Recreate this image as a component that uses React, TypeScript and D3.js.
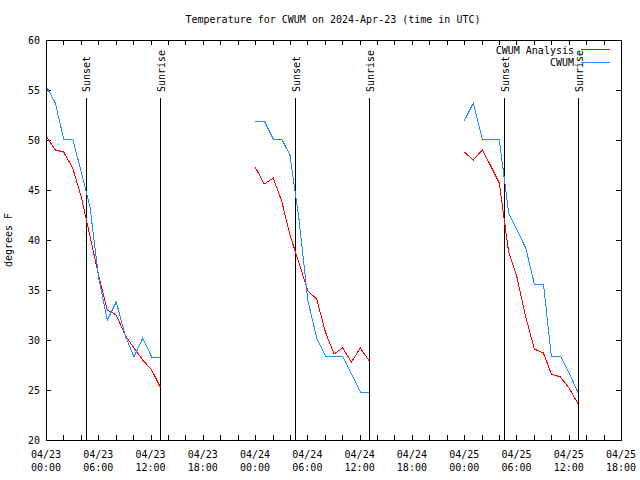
import React from "react";
import * as d3 from "d3";

// Hours since 2024-04-23 00:00 UTC, null = gap
const hours: (number | null)[] = [
  0.07, 1.07, 2.03, 3.06, 4.05, 5.05, 6.05, 7.04, 8.07, 9.07, 10.1, 11.1, 12.13, 13.12,
  null,
  24.0, 25.05, 26.08, 27.05, 28.0, 29.05, 30.05, 31.07, 32.07, 33.06, 34.05, 35.05, 36.08, 37.1,
  null,
  48.0, 49.05, 50.08, 51.0, 52.03, 53.1, 54.05, 55.07, 56.05, 57.1, 58.0, 59.05, 60.1, 61.08,
];
const analysis: (number | null)[] = [
  50.3, 49.0, 48.8, 47.2, 44.3, 40.4, 36.4, 33.0, 32.5, 30.5, 29.2, 28.0, 27.0, 25.3,
  null,
  47.3, 45.6, 46.2, 43.9, 40.5, 37.7, 34.9, 34.1, 30.8, 28.6, 29.2, 27.8, 29.2, 27.9,
  null,
  48.8, 48.0, 49.0, 47.5, 45.7, 38.8, 36.3, 32.3, 29.1, 28.7, 26.6, 26.3, 25.1, 23.6,
];
const observed: (number | null)[] = [
  55.3, 53.7, 50.1, 50.1, 46.8, 43.3, 36.2, 32.0, 33.8, 30.5, 28.3, 30.2, 28.3, 28.3,
  null,
  51.9, 51.9, 50.1, 50.1, 48.5, 42.0, 34.0, 30.2, 28.4, 28.4, 28.4, 26.6, 24.8, 24.8,
  null,
  51.9, 53.7, 50.1, 50.1, 50.1, 42.7, 41.0, 39.2, 35.6, 35.6, 28.4, 28.4, 26.6, 24.7,
];
const sunsetHours = [4.56, 28.6, 52.6];
const sunriseHours = [13.12, 37.1, 61.1];

const xTickHours = [0, 6, 12, 18, 24, 30, 36, 42, 48, 54, 60, 66];
const xTickLabels = [
  ["04/23", "00:00"], ["04/23", "06:00"], ["04/23", "12:00"], ["04/23", "18:00"],
  ["04/24", "00:00"], ["04/24", "06:00"], ["04/24", "12:00"], ["04/24", "18:00"],
  ["04/25", "00:00"], ["04/25", "06:00"], ["04/25", "12:00"], ["04/25", "18:00"],
];
const xMinorHours = [2, 4, 8, 10, 14, 16, 20, 22, 26, 28, 32, 34, 38, 40, 44, 46, 50, 52, 56, 58, 62, 64];
const yTicks = [20, 25, 30, 35, 40, 45, 50, 55, 60];

const title = "Temperature for CWUM on 2024-Apr-23 (time in UTC)";
const yLabel = "degrees F";
const seriesNames = ["CWUM Analysis", "CWUM"];
const RED = "#ff0000";
const BLUE = "#1e8cff";
const FONT = "'DejaVu Sans Mono', monospace";

export default function App() {
  const W = 640, H = 480;
  const L = 46, R = 621, T = 40, B = 440;
  const x = d3.scaleLinear().domain([0, 66]).range([L, R]);
  const y = d3.scaleLinear().domain([20, 60]).range([B, T]);

  const makeLine = (vals: (number | null)[]) =>
    d3.line<number>()
      .defined((i) => hours[i] != null && vals[i] != null)
      .x((i) => x(hours[i] as number))
      .y((i) => y(vals[i] as number))(d3.range(hours.length)) || "";

  const tickLen = 5;
  return (
    <div style={{ position: "fixed", left: 0, top: 0 }}>
      <svg width={W} height={H} style={{ display: "block", background: "#fff" }} fontFamily={FONT} fontSize={10}>
        <rect x={0} y={0} width={W} height={H} fill="#fff" />
        {/* y ticks */}
        {yTicks.map((v) => (
          <g key={"y" + v} shapeRendering="crispEdges">
            <line x1={L} x2={L + tickLen} y1={Math.round(y(v)) + 0.5} y2={Math.round(y(v)) + 0.5} stroke="#000" />
            <line x1={R - tickLen} x2={R} y1={Math.round(y(v)) + 0.5} y2={Math.round(y(v)) + 0.5} stroke="#000" />
            <text x={40} y={y(v) + 4} textAnchor="end" fill="#000">{v}</text>
          </g>
        ))}
        {/* x ticks */}
        {[...xTickHours, ...xMinorHours].map((h) => (
          <g key={"xt" + h} shapeRendering="crispEdges">
            <line x1={Math.round(x(h)) + 0.5} x2={Math.round(x(h)) + 0.5} y1={B} y2={B - tickLen} stroke="#000" />
            <line x1={Math.round(x(h)) + 0.5} x2={Math.round(x(h)) + 0.5} y1={T} y2={T + tickLen} stroke="#000" />
          </g>
        ))}
        {xTickHours.map((h, i) => (
          <g key={"xl" + h}>
            <text x={x(h)} y={458} textAnchor="middle" fill="#000">{xTickLabels[i][0]}</text>
            <text x={x(h)} y={471} textAnchor="middle" fill="#000">{xTickLabels[i][1]}</text>
          </g>
        ))}
        {/* sunset / sunrise */}
        {sunsetHours.map((h) => (
          <g key={"ss" + h}>
            <line x1={Math.round(x(h)) + 0.5} x2={Math.round(x(h)) + 0.5} y1={98} y2={B} stroke="#000" shapeRendering="crispEdges" />
            <text transform={`translate(${x(h) + 4.5},92) rotate(-90)`} textAnchor="start" fill="#000">Sunset</text>
          </g>
        ))}
        {sunriseHours.map((h) => (
          <g key={"sr" + h}>
            <line x1={Math.round(x(h)) + 0.5} x2={Math.round(x(h)) + 0.5} y1={98} y2={B} stroke="#000" shapeRendering="crispEdges" />
            <text transform={`translate(${x(h) + 4.5},92) rotate(-90)`} textAnchor="start" fill="#000">Sunrise</text>
          </g>
        ))}
        {/* series */}
        <path d={makeLine(analysis)} fill="none" stroke={RED} strokeWidth={1} shapeRendering="crispEdges" />
        <path d={makeLine(observed)} fill="none" stroke={BLUE} strokeWidth={1} shapeRendering="crispEdges" />
        {/* frame */}
        <rect x={L + 0.5} y={T + 0.5} width={R - L} height={B - T} fill="none" stroke="#000" shapeRendering="crispEdges" />
        {/* legend */}
        <text x={574} y={53.5} textAnchor="end" fill="#000">{seriesNames[0]}</text>
        <line x1={581} x2={610} y1={49.5} y2={49.5} stroke={RED} shapeRendering="crispEdges" />
        <text x={574} y={66} textAnchor="end" fill="#000">{seriesNames[1]}</text>
        <line x1={581} x2={610} y1={62.5} y2={62.5} stroke={BLUE} shapeRendering="crispEdges" />
        {/* title and y label */}
        <text x={333} y={23} textAnchor="middle" fill="#000">{title}</text>
        <text transform={`translate(12,240) rotate(-90)`} textAnchor="middle" fill="#000">{yLabel}</text>
      </svg>
    </div>
  );
}
